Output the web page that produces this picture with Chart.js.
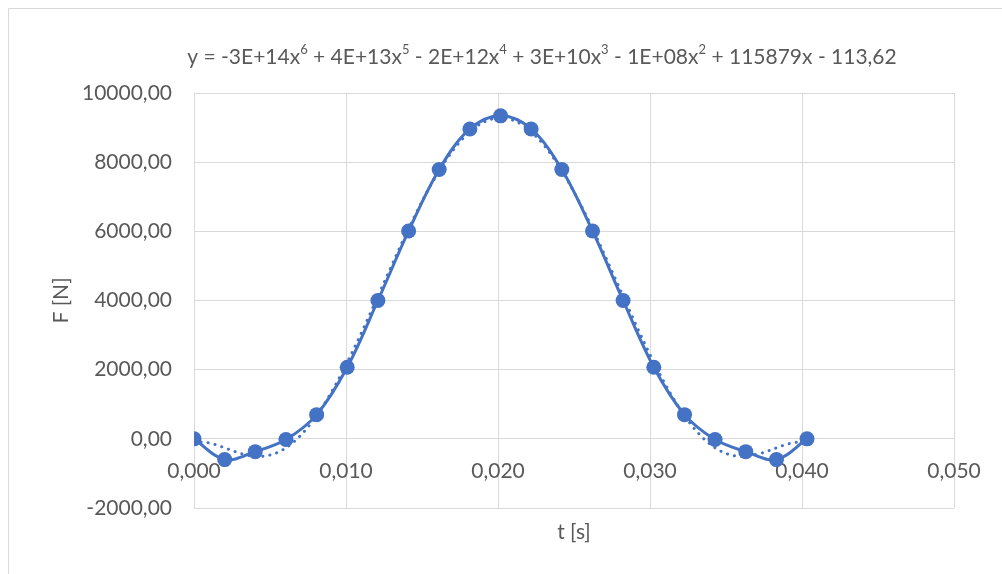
<!DOCTYPE html>
<html>
<head>
<meta charset="utf-8">
<script src="https://cdn.jsdelivr.net/npm/chart.js@4.4.0/dist/chart.umd.min.js"></script>
<style>
  html, body { margin: 0; padding: 0; background: #ffffff; }
  #chart { display: block; }
</style>
</head>
<body>
<canvas id="chart" width="1002" height="574"></canvas>
<script>
// measured values: time [s] and force [N]
const timeValues = [0, 0.00202, 0.00403, 0.00605, 0.00807, 0.01008, 0.0121, 0.01412, 0.01613, 0.01815,
    0.02017, 0.02218, 0.0242, 0.02622, 0.02823, 0.03025, 0.03227, 0.03428, 0.0363, 0.03832, 0.04033];
const forceValues = [0, -600, -370, -20, 700, 2070, 4000, 6010, 7790, 8960,
    9340, 8960, 7790, 6010, 4000, 2070, 700, -20, -370, -600, 0];

const xTicks = [0, 0.01, 0.02, 0.03, 0.04, 0.05];
const yTicks = [-2000, 0, 2000, 4000, 6000, 8000, 10000];

const equationParts = [
    ['y = -3E+14x', false], ['6', true], [' + 4E+13x', false], ['5', true],
    [' - 2E+12x', false], ['4', true], [' + 3E+10x', false], ['3', true],
    [' - 1E+08x', false], ['2', true], [' + 115879x - 113,62', false]
];

const blue = '#4472c4';
const textGrey = '#595959';
const gridGrey = '#d9d9d9';
const fontFamily = 'Lato, "Open Sans", sans-serif';
const fontSize = 21;

// polynomial trendline (order 6), least squares like the spreadsheet does
function polyFit(xs, ys, order, scale) {
    const n = order + 1;
    const A = [];
    for (let i = 0; i < n; i++) A.push(new Array(n + 1).fill(0));
    xs.forEach((x, k) => {
        const u = x / scale;
        for (let i = 0; i < n; i++) {
            for (let j = 0; j < n; j++) A[i][j] += Math.pow(u, i + j);
            A[i][n] += ys[k] * Math.pow(u, i);
        }
    });
    for (let c = 0; c < n; c++) {
        let p = c;
        for (let r = c + 1; r < n; r++) if (Math.abs(A[r][c]) > Math.abs(A[p][c])) p = r;
        [A[c], A[p]] = [A[p], A[c]];
        for (let r = 0; r < n; r++) {
            if (r === c) continue;
            const f = A[r][c] / A[c][c];
            for (let j = c; j <= n; j++) A[r][j] -= f * A[c][j];
        }
    }
    return A.map((row, i) => row[n] / row[i]);
}

const fitScale = 0.04;
const coeffs = polyFit(timeValues, forceValues, 6, fitScale);
const trendPoints = [];
const tEnd = timeValues[timeValues.length - 1];
for (let i = 0; i <= 200; i++) {
    const t = tEnd * i / 200;
    const u = t / fitScale;
    let y = 0;
    coeffs.forEach((c, k) => { y += c * Math.pow(u, k); });
    trendPoints.push({ x: t, y: y });
}

const chartDecor = {
    id: 'chartDecor',
    beforeDraw(chart) {
        const ctx = chart.ctx;
        ctx.save();
        ctx.fillStyle = '#ffffff';
        ctx.fillRect(0, 0, chart.width, chart.height);
        ctx.strokeStyle = gridGrey;
        ctx.lineWidth = 1;
        ctx.beginPath();
        ctx.moveTo(8.5, chart.height + 5);
        ctx.lineTo(8.5, 8.5);
        ctx.lineTo(chart.width + 5, 8.5);
        ctx.stroke();
        ctx.restore();
    },
    afterDraw(chart) {
        const ctx = chart.ctx;
        const area = chart.chartArea;
        ctx.save();
        ctx.fillStyle = textGrey;
        // x axis title below the plot area
        ctx.font = fontSize + 'px ' + fontFamily;
        ctx.textAlign = 'center';
        ctx.textBaseline = 'middle';
        ctx.fillText('t [s]', (area.left + area.right) / 2, area.bottom + 24);
        // trendline equation
        const big = fontSize + 'px ' + fontFamily;
        const small = '13px ' + fontFamily;
        let total = 0;
        equationParts.forEach(([s, sup]) => {
            ctx.font = sup ? small : big;
            total += ctx.measureText(s).width;
        });
        let x = 542 - total / 2;
        const y = 57;
        ctx.textAlign = 'left';
        ctx.textBaseline = 'middle';
        equationParts.forEach(([s, sup]) => {
            ctx.font = sup ? small : big;
            ctx.fillText(s, x, sup ? y - 7 : y);
            x += ctx.measureText(s).width;
        });
        ctx.restore();
    }
};

new Chart(document.getElementById('chart'), {
    type: 'scatter',
    data: {
        datasets: [{
            label: 'F',
            data: timeValues.map((t, i) => ({ x: t, y: forceValues[i] })),
            showLine: true,
            tension: 0.35,
            borderColor: blue,
            borderWidth: 3,
            backgroundColor: blue,
            pointRadius: 7.5,
            pointBorderWidth: 0,
            order: 2
        }, {
            label: 'Poly. (F)',
            data: trendPoints,
            showLine: true,
            tension: 0,
            borderColor: blue,
            borderWidth: 3,
            borderDash: [0.1, 7],
            borderCapStyle: 'round',
            pointRadius: 0,
            order: 1
        }]
    },
    options: {
        responsive: false,
        animation: false,
        layout: { padding: { top: 93, right: 48, bottom: 66, left: 0 } },
        plugins: {
            legend: { display: false },
            tooltip: { enabled: false }
        },
        scales: {
            x: {
                type: 'linear',
                position: { y: 0 },
                min: 0,
                max: 0.05,
                afterBuildTicks: (scale) => { scale.ticks = xTicks.map(v => ({ value: v })); },
                grid: { color: gridGrey, drawTicks: false },
                border: { color: gridGrey },
                ticks: {
                    padding: 20,
                    maxRotation: 0,
                    color: textGrey,
                    font: { family: fontFamily, size: fontSize },
                    callback: (v) => v.toFixed(3).replace('.', ',')
                }
            },
            y: {
                type: 'linear',
                min: -2000,
                max: 10000,
                afterBuildTicks: (scale) => { scale.ticks = yTicks.map(v => ({ value: v })); },
                afterFit: (scale) => { scale.width = 194; },
                grid: { color: gridGrey, drawTicks: false },
                border: { display: false },
                ticks: {
                    padding: 22,
                    color: textGrey,
                    font: { family: fontFamily, size: fontSize },
                    callback: (v) => v.toFixed(2).replace('.', ',')
                },
                title: {
                    display: true,
                    text: 'F [N]',
                    color: textGrey,
                    font: { family: fontFamily, size: fontSize },
                    padding: { top: 49, bottom: 0 }
                }
            }
        }
    },
    plugins: [chartDecor]
});
</script>
</body>
</html>
